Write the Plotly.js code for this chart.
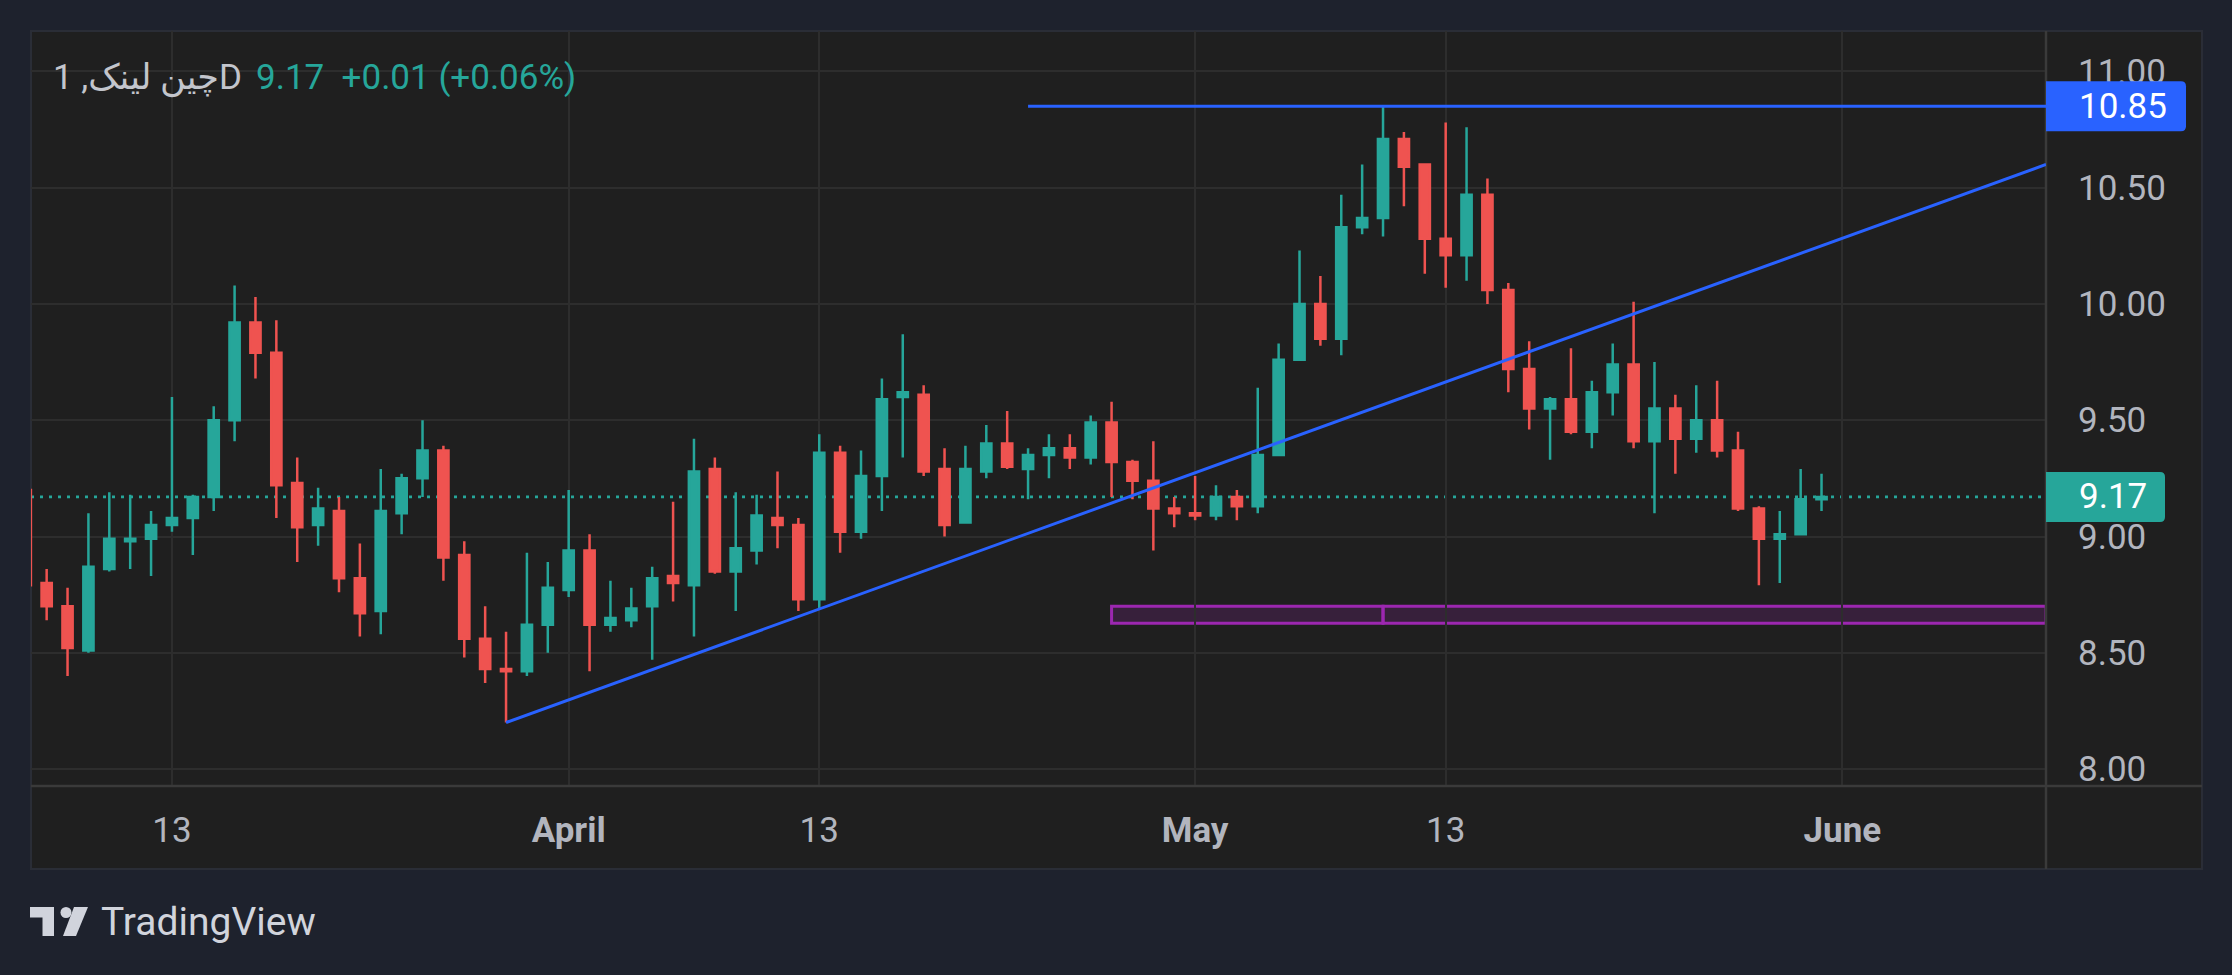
<!DOCTYPE html>
<html>
<head>
<meta charset="utf-8">
<script src="https://cdn.plot.ly/plotly-3.0.1.min.js"></script>
<style>
html,body{margin:0;padding:0;background:#1e222d;}
#chart{width:2232px;height:975px;}
</style>
</head>
<body>
<div id="chart"></div>
<script>
// ---------------- DATA ----------------
const dates = [
 '2025-03-06','2025-03-07','2025-03-08','2025-03-09','2025-03-10','2025-03-11','2025-03-12','2025-03-13','2025-03-14','2025-03-15',
 '2025-03-16','2025-03-17','2025-03-18','2025-03-19','2025-03-20','2025-03-21','2025-03-22','2025-03-23','2025-03-24','2025-03-25',
 '2025-03-26','2025-03-27','2025-03-28','2025-03-29','2025-03-30','2025-03-31','2025-04-01','2025-04-02','2025-04-03','2025-04-04',
 '2025-04-05','2025-04-06','2025-04-07','2025-04-08','2025-04-09','2025-04-10','2025-04-11','2025-04-12','2025-04-13','2025-04-14',
 '2025-04-15','2025-04-16','2025-04-17','2025-04-18','2025-04-19','2025-04-20','2025-04-21','2025-04-22','2025-04-23','2025-04-24',
 '2025-04-25','2025-04-26','2025-04-27','2025-04-28','2025-04-29','2025-04-30','2025-05-01','2025-05-02','2025-05-03','2025-05-04',
 '2025-05-05','2025-05-06','2025-05-07','2025-05-08','2025-05-09','2025-05-10','2025-05-11','2025-05-12','2025-05-13','2025-05-14',
 '2025-05-15','2025-05-16','2025-05-17','2025-05-18','2025-05-19','2025-05-20','2025-05-21','2025-05-22','2025-05-23','2025-05-24',
 '2025-05-25','2025-05-26','2025-05-27','2025-05-28','2025-05-29','2025-05-30','2025-05-31'
];
const opens = [
 9.20,8.80,8.70,8.51,8.86,8.98,8.99,9.05,9.08,9.17,
 9.50,9.92,9.79,9.23,9.05,9.11,8.82,8.68,9.10,9.25,
 9.37,8.92,8.56,8.43,8.42,8.62,8.77,8.94,8.62,8.64,
 8.70,8.83,8.79,9.29,8.85,8.94,9.08,9.05,8.73,9.36,
 9.02,9.26,9.60,9.61,9.29,9.06,9.28,9.40,9.29,9.35,
 9.38,9.34,9.49,9.32,9.24,9.12,9.10,9.09,9.17,9.13,
 9.35,9.76,10.00,9.85,10.33,10.37,10.71,10.60,10.28,10.21,
 10.47,10.06,9.72,9.55,9.59,9.45,9.62,9.74,9.41,9.55,
 9.42,9.50,9.37,9.12,8.99,9.01,9.16
];
const highs = [
 9.21,8.86,8.78,9.10,9.19,9.18,9.11,9.60,9.18,9.56,
 10.08,10.03,9.93,9.34,9.21,9.17,8.97,9.29,9.27,9.50,
 9.39,8.98,8.70,8.59,8.93,8.89,9.20,9.01,8.81,8.78,
 8.87,9.15,9.42,9.34,9.19,9.18,9.28,9.08,9.44,9.39,
 9.37,9.68,9.87,9.65,9.38,9.39,9.48,9.54,9.38,9.44,
 9.44,9.52,9.58,9.33,9.41,9.17,9.26,9.22,9.20,9.64,
 9.83,10.23,10.12,10.47,10.60,10.85,10.74,10.60,10.78,10.76,
 10.54,10.09,9.84,9.60,9.81,9.67,9.83,10.01,9.75,9.61,
 9.65,9.67,9.45,9.13,9.11,9.29,9.27
];
const lows = [
 8.78,8.64,8.40,8.50,8.85,8.86,8.83,9.02,8.92,9.11,
 9.41,9.68,9.08,8.89,8.96,8.76,8.57,8.58,9.01,9.17,
 8.81,8.48,8.37,8.20,8.40,8.50,8.74,8.42,8.59,8.61,
 8.47,8.72,8.57,8.84,8.68,8.88,8.95,8.68,8.69,8.93,
 8.99,9.11,9.34,9.26,9.00,9.06,9.25,9.29,9.16,9.25,
 9.29,9.31,9.17,9.16,8.94,9.04,9.07,9.07,9.07,9.10,
 9.35,9.76,9.82,9.78,10.30,10.29,10.42,10.13,10.07,10.10,
 10.00,9.62,9.46,9.33,9.44,9.38,9.52,9.38,9.10,9.27,
 9.36,9.34,9.11,8.79,8.80,9.01,9.11
];
const closes = [
 8.79,8.70,8.52,8.87,8.99,8.99,9.05,9.08,9.17,9.50,
 9.92,9.79,9.22,9.04,9.12,8.82,8.67,9.11,9.25,9.37,
 8.91,8.56,8.43,8.42,8.62,8.78,8.94,8.62,8.65,8.69,
 8.82,8.80,9.28,8.85,8.95,9.09,9.05,8.73,9.36,9.02,
 9.26,9.59,9.62,9.28,9.05,9.29,9.40,9.30,9.35,9.38,
 9.34,9.49,9.32,9.24,9.12,9.10,9.09,9.17,9.13,9.35,
 9.76,10.00,9.85,10.33,10.37,10.71,10.59,10.28,10.21,10.47,
 10.06,9.72,9.55,9.59,9.45,9.62,9.74,9.41,9.55,9.42,
 9.50,9.37,9.12,8.99,9.01,9.16,9.17
];
const xTickDates = ['2025-03-13','2025-04-01','2025-04-13','2025-05-01','2025-05-13','2025-06-01'];
const xTickLabels = ['13','<b>April</b>','13','<b>May</b>','13','<b>June</b>'];
const yTickValues = [8.00,8.50,9.00,9.50,10.00,10.50,11.00];
const xRange = ['2025-03-06 06:00','2025-06-10 18:00'];
const yRange = [7.927, 11.174];
// drawings
const trendDates = ['2025-03-29','2025-06-10 18:00'];
const trendPrices = [8.20, 10.60];
const resistanceDates = ['2025-04-23','2025-06-10 18:00'];
const resistancePrice = 10.85;
const zoneDates = ['2025-04-27','2025-05-10','2025-06-10 18:00'];
const zonePrices = [8.627, 8.70];
const symbolText = 'چین لینک, 1D';
const quoteText = '9.17  +0.01 (+0.06%)';

// ---------------- LAYOUT HELPERS ----------------
const W = 2232, H = 975;
const L = 31, R = 2046, T = 31, B = 786;
const PW = R - L, PH = B - T;
const px = x => (x - L) / PW;           // pixel x -> paper x
const py = y => (B - y) / PH;           // pixel y -> paper y
const pricePerPx = (yRange[1] - yRange[0]) / PH;

const UP = '#26a69a', DOWN = '#ef5350', BLUE = '#2962ff', PURPLE = '#9c27b0';
const FONT = 'Roboto, "DejaVu Sans", "Noto Sans", sans-serif';
const lastPrice = closes[closes.length - 1];

function priceBox(xEndPx, price, hPx, rPx, color) {
  const x0 = 1, x1 = px(xEndPx);
  const rx = rPx / PW, ry = rPx * pricePerPx;
  const yt = price + hPx / 2 * pricePerPx, yb = price - hPx / 2 * pricePerPx;
  return {
    type: 'path', xref: 'paper', yref: 'y', layer: 'above',
    path: `M ${x0},${yt} L ${x1 - rx},${yt} Q ${x1},${yt} ${x1},${yt - ry} L ${x1},${yb + ry} Q ${x1},${yb} ${x1 - rx},${yb} L ${x0},${yb} Z`,
    fillcolor: color, line: {width: 0}
  };
}

const shapes = [
  // pane background
  {type:'rect', xref:'paper', yref:'paper', layer:'below', x0:px(31), x1:px(2202), y0:py(869), y1:py(31),
   fillcolor:'#1f1f1f', line:{color:'#2a2d36', width:2}},
  // separators
  {type:'line', xref:'paper', yref:'paper', layer:'above', x0:1, x1:1, y0:py(869), y1:py(31), line:{color:'#3a3a3a', width:2.5}},
  {type:'line', xref:'paper', yref:'paper', layer:'above', x0:0, x1:px(2202), y0:0, y1:0, line:{color:'#3a3a3a', width:2.5}},
  // last price dotted line
  {type:'line', xref:'paper', yref:'y', layer:'below', x0:0, x1:1, y0:lastPrice, y1:lastPrice,
   line:{color:UP, width:2.7, dash:'3px,6px'}},
  // purple zone (two parts)
  {type:'rect', xref:'x', yref:'y', layer:'below', x0:zoneDates[0], x1:zoneDates[1], y0:zonePrices[0], y1:zonePrices[1],
   fillcolor:'rgba(156,39,176,0.2)', line:{color:PURPLE, width:3}},
  {type:'rect', xref:'x', yref:'y', layer:'below', x0:zoneDates[1], x1:zoneDates[2], y0:zonePrices[0], y1:zonePrices[1],
   fillcolor:'rgba(156,39,176,0.2)', line:{color:PURPLE, width:3}},
  // resistance horizontal line
  {type:'line', xref:'x', yref:'y', layer:'above', x0:resistanceDates[0], x1:resistanceDates[1], y0:resistancePrice, y1:resistancePrice,
   line:{color:BLUE, width:3}},
  // trend line
  {type:'line', xref:'x', yref:'y', layer:'above', x0:trendDates[0], x1:trendDates[1], y0:trendPrices[0], y1:trendPrices[1],
   line:{color:BLUE, width:3}},
  // price axis boxes
  priceBox(2186, resistancePrice, 50, 5, BLUE),
  priceBox(2165, lastPrice, 50, 5, UP),
  // TradingView logo
  {type:'rect', xref:'paper', yref:'paper', x0:px(30), x1:px(54), y0:py(917.5), y1:py(907), fillcolor:'#d1d4dc', line:{width:0}},
  {type:'rect', xref:'paper', yref:'paper', x0:px(42.5), x1:px(54), y0:py(936), y1:py(907), fillcolor:'#d1d4dc', line:{width:0}},
  {type:'circle', xref:'paper', yref:'paper', x0:px(60.5), x1:px(71.5), y0:py(918), y1:py(907), fillcolor:'#d1d4dc', line:{width:0}},
  {type:'path', xref:'paper', yref:'paper', fillcolor:'#d1d4dc', line:{width:0},
   path:`M ${px(74)},${py(907)} L ${px(88)},${py(907)} L ${px(76)},${py(936)} L ${px(63)},${py(936)} Z`}
];

const annotations = [
  {xref:'paper', yref:'paper', x:px(51), y:py(78), xanchor:'left', yanchor:'middle', showarrow:false,
   text:symbolText, font:{family:FONT, size:35, color:'#c3c5cc'}},
  {xref:'paper', yref:'paper', x:px(254), y:py(78), xanchor:'left', yanchor:'middle', showarrow:false,
   text:quoteText, font:{family:FONT, size:35, color:UP}},
  {xref:'paper', yref:'y', x:px(2077), y:resistancePrice, xanchor:'left', yanchor:'middle', showarrow:false,
   text:resistancePrice.toFixed(2), font:{family:FONT, size:35, color:'#ffffff'}},
  {xref:'paper', yref:'y', x:px(2077), y:lastPrice, xanchor:'left', yanchor:'middle', showarrow:false,
   text:lastPrice.toFixed(2), font:{family:FONT, size:35, color:'#ffffff'}},
  {xref:'paper', yref:'paper', x:px(99), y:py(922), xanchor:'left', yanchor:'middle', showarrow:false,
   text:'TradingView', font:{family:FONT, size:39, color:'#d1d4dc'}}
];

const trace = {
  type:'candlestick', x:dates, open:opens, high:highs, low:lows, close:closes,
  increasing:{line:{color:UP, width:2.5}, fillcolor:UP},
  decreasing:{line:{color:DOWN, width:2.5}, fillcolor:DOWN},
  whiskerwidth:0, hoverinfo:'skip', showlegend:false
};

const layout = {
  width:W, height:H,
  margin:{l:L, r:W - R, t:T, b:H - B, pad:0},
  paper_bgcolor:'#1e222d', plot_bgcolor:'#1f1f1f',
  font:{family:FONT, color:'#b2b5be'},
  showlegend:false, hovermode:false, dragmode:false,
  boxgap:0.3,
  xaxis:{type:'date', range:xRange, rangeslider:{visible:false},
    tickmode:'array', tickvals:xTickDates, ticktext:xTickLabels,
    showgrid:true, gridcolor:'#2d2d2d', gridwidth:2, zeroline:false, showline:false,
    ticks:'', ticklabelstandoff:20, tickfont:{family:FONT, size:35, color:'#b2b5be'}, fixedrange:true},
  yaxis:{side:'right', range:yRange, tickmode:'array', tickvals:yTickValues,
    ticktext:yTickValues.map(v => v.toFixed(2)),
    showgrid:true, gridcolor:'#2d2d2d', gridwidth:2, zeroline:false, showline:false,
    ticks:'', ticklabelstandoff:31, tickfont:{family:FONT, size:35, color:'#b2b5be'}, fixedrange:true},
  shapes:shapes, annotations:annotations
};

Plotly.newPlot('chart', [trace], layout, {displayModeBar:false, staticPlot:true});
</script>
</body>
</html>
